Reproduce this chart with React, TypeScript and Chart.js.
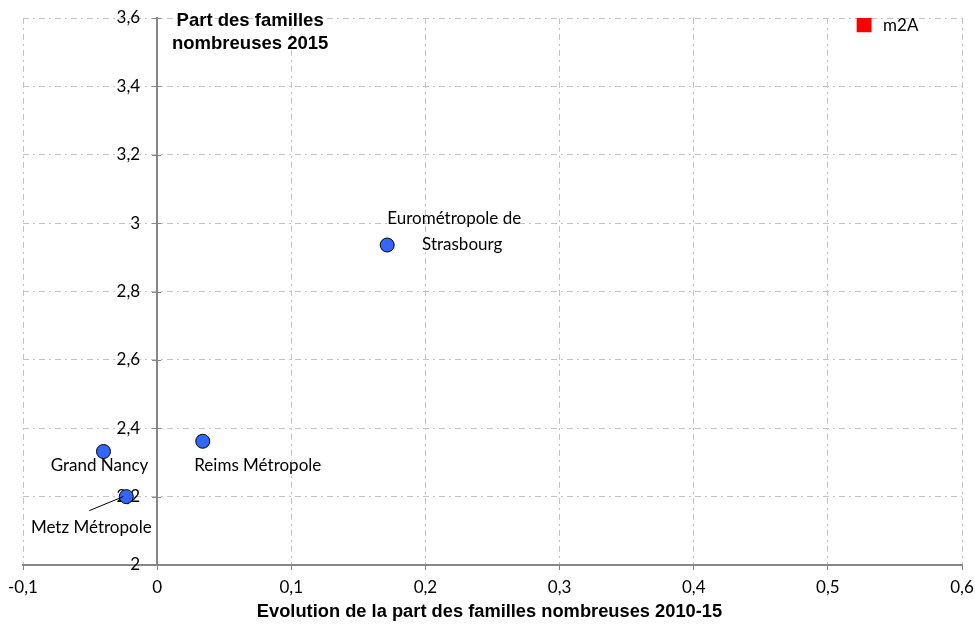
import React, { useEffect, useRef } from "react";
import { Chart, registerables } from "chart.js";

Chart.register(...registerables);

const territoryNames = [
  "Eurométropole de Strasbourg",
  "Reims Métropole",
  "Grand Nancy",
  "Metz Métropole",
];
const evolution2010_15 = [0.1715, 0.034, -0.040, -0.023];
const share2015 = [2.936, 2.362, 2.332, 2.2];

const highlightName = "m2A";
const highlightEvolution = [0.527];
const highlightShare = [3.58];

const xTickValues = [-0.1, 0, 0.1, 0.2, 0.3, 0.4, 0.5, 0.6];
const yTickValues = [2, 2.2, 2.4, 2.6, 2.8, 3, 3.2, 3.4, 3.6];

const xTitle = "Evolution de la part des familles nombreuses 2010-15";
const yTitleLines = ["Part des familles", "nombreuses 2015"];

// label layout (pixel offsets from point, style only)
const labelLayout: Record<string, { lines: string[]; dx: number[]; dy: number; align: CanvasTextAlign; leader?: [number, number] }> = {
  "Eurométropole de Strasbourg": { lines: ["Eurométropole de", "Strasbourg"], dx: [67, 75], dy: -13, align: "center" },
  "Reims Métropole": { lines: ["Reims Métropole"], dx: [55], dy: 24, align: "center" },
  "Grand Nancy": { lines: ["Grand Nancy"], dx: [-4], dy: 14, align: "center" },
  "Metz Métropole": { lines: ["Metz Métropole"], dx: [-35], dy: 31, align: "center", leader: [-37, 14] },
  m2A: { lines: ["m2A"], dx: [19], dy: 1, align: "left" },
};

const fmt = (v: number) => {
  const r = Math.round(v * 10) / 10;
  return String(r).replace(".", ",");
};

const LABEL_FONT = "17px Lato";
const AXIS_GREY = "#868686";
const GRID_GREY = "#c4c4c4";
const GRID_DASH = [6, 4, 2, 4];

const labelPlugin = {
  id: "pointLabels",
  afterDraw(chart: any) {
    const ctx = chart.ctx as CanvasRenderingContext2D;
    ctx.save();
    // y-axis tick marks crossing the axis
    const ys = chart.scales.y;
    const ax = chart.scales.x.getPixelForValue(0);
    ctx.strokeStyle = AXIS_GREY;
    ctx.lineWidth = 1;
    ctx.beginPath();
    ys.ticks.forEach((t: any) => {
      const py = Math.round(ys.getPixelForValue(t.value)) + 0.5;
      ctx.moveTo(ax - 5, py);
      ctx.lineTo(ax + 4, py);
    });
    ctx.stroke();

    ctx.font = LABEL_FONT;
    ctx.fillStyle = "#000";
    ctx.textBaseline = "middle";
    const draw = (name: string, el: any) => {
      const l = labelLayout[name];
      if (!l) return;
      const y = el.y + l.dy;
      if (l.leader) {
        ctx.strokeStyle = "#000";
        ctx.lineWidth = 1;
        ctx.beginPath();
        ctx.moveTo(el.x + l.leader[0], el.y + l.leader[1]);
        ctx.lineTo(el.x - 3, el.y);
        ctx.stroke();
      }
      ctx.textAlign = l.align;
      l.lines.forEach((t, i) => {
        ctx.fillText(t, el.x + l.dx[i], y + (i - (l.lines.length - 1) / 2) * 26);
      });
    };
    const m0 = chart.getDatasetMeta(0);
    m0.data.forEach((el: any, i: number) => draw(territoryNames[i], el));
    const m1 = chart.getDatasetMeta(1);
    m1.data.forEach((el: any) => draw(highlightName, el));

    // axis titles
    const ca = chart.chartArea;
    ctx.font = "bold 18.5px 'Liberation Sans'";
    ctx.textAlign = "center";
    ctx.fillText(yTitleLines[0], ax + 93, ca.top + 3);
    ctx.fillText(yTitleLines[1], ax + 93, ca.top + 26);
    ctx.font = "bold 18.3px 'Liberation Sans'";
    ctx.fillText(xTitle, (ca.left + ca.right) / 2 - 3, chart.height - 15);
    ctx.restore();
  },
};

export default function App() {
  const ref = useRef<HTMLCanvasElement>(null);
  useEffect(() => {
    document.body.style.margin = "0";
    const chart = new Chart(ref.current!, {
      type: "scatter",
      data: {
        datasets: [
          {
            label: "Territoires",
            data: evolution2010_15.map((x, i) => ({ x, y: share2015[i] })),
            backgroundColor: "#3366ff",
            borderColor: "#000",
            borderWidth: 1,
            pointRadius: 7,
            pointHoverRadius: 7,
          },
          {
            label: highlightName,
            data: highlightEvolution.map((x, i) => ({ x, y: highlightShare[i] })),
            backgroundColor: "#ff0000",
            borderColor: "#ff0000",
            borderWidth: 0,
            pointStyle: "rect",
            pointRadius: 10.5,
            pointHoverRadius: 10.5,
          },
        ],
      },
      options: {
        animation: false,
        responsive: false,
        layout: { padding: { left: 23, right: 13, top: 18, bottom: 0 } },
        plugins: { legend: { display: false }, tooltip: { enabled: false } },
        scales: {
          x: {
            type: "linear",
            position: "bottom",
            min: -0.1,
            max: 0.6,
            afterBuildTicks: (s: any) => {
              s.ticks = xTickValues.map((v) => ({ value: v }));
            },
            afterFit: (s: any) => {
              s.height = 62;
              s.paddingLeft = 0;
              s.paddingRight = 0;
              s.paddingTop = 0;
              s.paddingBottom = 0;
            },
            ticks: {
              callback: (v: any) => fmt(Number(v)),
              font: { family: "Lato", size: 17 },
              color: "#000",
              padding: 7,
              maxRotation: 0,
            },
            grid: {
              color: GRID_GREY,
              lineWidth: 1,
              tickLength: 5,
              tickColor: AXIS_GREY,
            },
            border: { display: true, color: AXIS_GREY, width: 2, dash: GRID_DASH },
          },
          y: {
            type: "linear",
            position: { x: 0 } as any,
            min: 2,
            max: 3.6,
            afterBuildTicks: (s: any) => {
              s.ticks = yTickValues.map((v) => ({ value: v }));
            },
            afterFit: (s: any) => {
              s.paddingLeft = 0;
              s.paddingRight = 0;
              s.paddingTop = 0;
              s.paddingBottom = 0;
            },
            ticks: {
              // en-spaces keep the right-aligned labels clear of the crossing axis
              callback: (v: any) => fmt(Number(v)) + "\u2002\u2002",
              font: { family: "Lato", size: 17 },
              color: "#000",
              padding: 0,
            },
            grid: {
              color: GRID_GREY,
              lineWidth: 1,
              tickLength: 5,
              tickColor: "rgba(0,0,0,0)",
            },
            border: { display: true, color: AXIS_GREY, width: 2, dash: GRID_DASH },
          },
        },
      },
      plugins: [labelPlugin],
    });
    return () => chart.destroy();
  }, []);
  return (
    <div style={{ width: 975, height: 627 }}>
      <canvas ref={ref} width={975} height={627} style={{ display: "block" }} />
    </div>
  );
}
